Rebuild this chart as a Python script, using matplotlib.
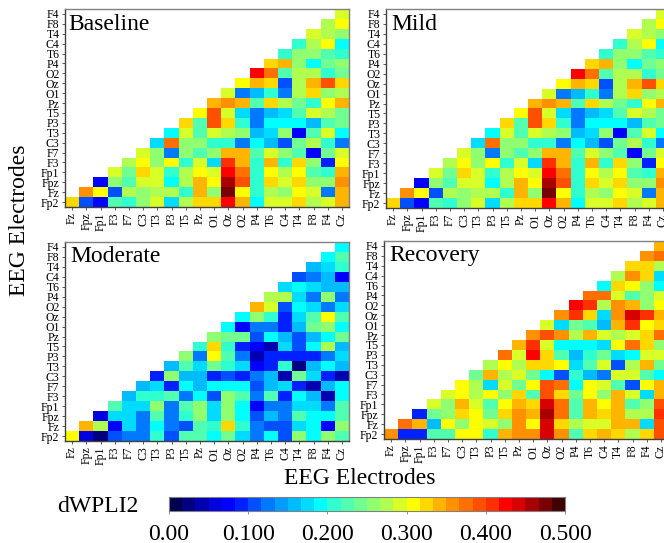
import matplotlib
matplotlib.use("Agg")
import matplotlib.pyplot as plt
import numpy as np
from matplotlib.colors import ListedColormap

x_labels = ["Fz", "Fpz", "Fp1", "F3", "F7", "C3", "T3", "P3", "T5", "Pz",
            "O1", "Oz", "O2", "P4", "T6", "C4", "T4", "F8", "F4", "Cz"]
y_labels = ["Fp2", "Fz", "Fpz", "Fp1", "F3", "F7", "C3", "T3", "P3", "T5",
            "Pz", "O1", "Oz", "O2", "P4", "T6", "C4", "T4", "F8", "F4"]

# rows go bottom to top, each row starts at the diagonal
baseline_rows = [
    [.33, .10, .08, .23, .21, .25, .29, .17, .27, .33, .33, .43, .34, .19, .29, .29, .33, .27, .29, .34],
    [.36, .31, .11, .27, .25, .27, .27, .21, .34, .25, .475, .31, .21, .27, .25, .31, .29, .13, .34],
    [.07, .25, .22, .29, .29, .19, .27, .34, .31, .46, .39, .21, .33, .29, .33, .25, .25, .36],
    [.29, .24, .33, .29, .21, .27, .31, .29, .43, .38, .21, .31, .27, .31, .23, .21, .34],
    [.27, .31, .25, .31, .21, .29, .17, .41, .34, .21, .34, .21, .33, .25, .09, .31],
    [.29, .25, .13, .25, .23, .25, .34, .34, .23, .29, .25, .22, .08, .24, .29],
    [.17, .38, .25, .25, .21, .21, .13, .19, .15, .11, .24, .27, .21, .13],
    [.19, .29, .23, .29, .27, .25, .15, .17, .25, .07, .23, .29, .19],
    [.33, .23, .39, .33, .21, .13, .19, .19, .19, .15, .22, .24],
    [.31, .39, .29, .17, .13, .15, .17, .23, .29, .27, .24],
    [.34, .36, .34, .23, .33, .27, .24, .21, .31, .34],
    [.29, .13, .15, .21, .13, .27, .33, .26, .27],
    [.31, .34, .33, .11, .27, .34, .39, .33],
    [.43, .38, .23, .27, .27, .21, .24],
    [.33, .34, .25, .19, .24, .25],
    [.21, .25, .25, .23, .21],
    [.21, .27, .31, .19],
    [.29, .27, .25],
    [.27, .31],
    [.29],
]

# the Mild panel shows the same colours as Baseline
mild_rows = baseline_rows

moderate_rows = [
    [.31, .05, .02, .11, .13, .12, .21, .11, .23, .23, .19, .24, .17, .13, .19, .11, .25, .19, .25, .23],
    [.34, .27, .07, .17, .13, .19, .13, .11, .23, .21, .33, .21, .13, .11, .11, .17, .19, .08, .25],
    [.05, .17, .17, .13, .23, .13, .21, .25, .17, .25, .19, .11, .15, .13, .23, .19, .19, .23],
    [.23, .17, .17, .25, .13, .23, .25, .17, .25, .19, .08, .13, .13, .17, .17, .13, .23],
    [.15, .21, .21, .23, .13, .19, .10, .25, .23, .13, .23, .09, .19, .15, .04, .19],
    [.15, .17, .09, .19, .15, .19, .19, .19, .10, .15, .17, .09, .04, .15, .19],
    [.09, .25, .15, .15, .09, .11, .09, .13, .15, .04, .24, .17, .09, .04],
    [.15, .23, .17, .24, .21, .17, .08, .09, .21, .03, .15, .19, .15],
    [.25, .13, .31, .23, .13, .04, .09, .09, .09, .09, .12, .17],
    [.21, .33, .21, .09, .07, .04, .17, .11, .19, .27, .15],
    [.25, .24, .24, .11, .19, .15, .11, .15, .19, .24],
    [.19, .08, .13, .13, .09, .15, .24, .26, .19],
    [.19, .26, .21, .09, .17, .23, .31, .23],
    [.34, .29, .11, .19, .17, .13, .17],
    [.27, .27, .17, .13, .25, .13],
    [.17, .19, .17, .15, .15],
    [.11, .13, .15, .08],
    [.15, .17, .21],
    [.19, .22],
    [.19],
]

recovery_rows = [
    [.36, .09, .09, .23, .22, .31, .31, .21, .34, .36, .36, .44, .36, .23, .33, .34, .33, .27, .33, .39],
    [.38, .34, .15, .31, .25, .31, .29, .25, .36, .31, .44, .33, .27, .29, .29, .34, .34, .17, .39],
    [.09, .24, .25, .33, .31, .24, .33, .36, .34, .46, .38, .23, .34, .33, .34, .27, .27, .41],
    [.29, .25, .34, .29, .22, .31, .34, .33, .44, .38, .23, .34, .31, .34, .23, .25, .39],
    [.29, .31, .27, .31, .25, .33, .22, .39, .33, .24, .31, .25, .34, .29, .17, .34],
    [.31, .27, .17, .29, .24, .31, .39, .38, .19, .31, .29, .23, .10, .31, .34],
    [.24, .34, .27, .29, .24, .19, .11, .21, .15, .13, .29, .29, .23, .19],
    [.27, .31, .27, .33, .33, .31, .17, .23, .29, .11, .27, .34, .24],
    [.38, .29, .43, .33, .23, .15, .21, .24, .17, .19, .29, .29],
    [.34, .41, .29, .19, .19, .19, .17, .31, .38, .33, .25],
    [.36, .39, .36, .27, .34, .29, .27, .29, .33, .38],
    [.29, .17, .24, .23, .15, .34, .41, .31, .33],
    [.36, .41, .33, .17, .36, .44, .41, .34],
    [.42, .41, .27, .36, .34, .25, .31],
    [.38, .38, .29, .22, .25, .29],
    [.19, .33, .31, .25, .19],
    [.27, .36, .33, .17],
    [.33, .33, .27],
    [.36, .38],
    [.34],
]

W, H = 664, 543
plt.rcParams["font.family"] = "Liberation Serif"

# 30 steps
cmap = ListedColormap([
    "#000050", "#000080", "#0000b0", "#0000e0", "#0000ff", "#0020ff",
    "#0050ff", "#0078ff", "#009cff", "#00bcff", "#00dcff", "#00ffff",
    "#30ffd0", "#50ffb0", "#70ff90", "#90ff70", "#b0ff50", "#d8ff28",
    "#ffff00", "#ffd800", "#ffb400", "#ff9000", "#ff7000", "#ff5000",
    "#ff3000", "#ff0000", "#d80000", "#a80000", "#780000", "#400000",
])


def px_axes(fig, left, top, right, bottom):
    return fig.add_axes([left / W, 1 - bottom / H, (right - left) / W, (bottom - top) / H])


def to_matrix(rows):
    mat = np.full((20, 20), np.nan)
    for i, row in enumerate(rows):
        mat[i, i:] = row
    return np.ma.masked_invalid(mat)


def draw_panel(ax, rows, name, lx, ly):
    edges = np.arange(21) - 0.5
    ax.pcolormesh(edges, edges, to_matrix(rows), cmap=cmap, vmin=0, vmax=0.5)
    ax.set_xticks(np.arange(20))
    ax.set_xticklabels(x_labels, rotation=90, fontsize=8.5)
    ax.set_yticks(np.arange(20))
    ax.set_yticklabels(y_labels, fontsize=8.5)
    ax.tick_params(length=2.5, width=0.6, pad=1.5, color="#404040")
    for side in ["left", "bottom"]:
        ax.spines[side].set_color("#404040")
    for side in ["top", "right"]:
        ax.spines[side].set_color("#808080")
    for spine in ax.spines.values():
        spine.set_linewidth(1.0)
    ax.figure.text(lx / W, 1 - ly / H, name, fontsize=17, ha="left", va="center")


fig = plt.figure(figsize=(W / 100, H / 100), dpi=100)

draw_panel(px_axes(fig, 65, 9, 349, 207), baseline_rows, "Baseline", 68, 24)
draw_panel(px_axes(fig, 386, 9, 670, 208), mild_rows, "Mild", 391, 24)
draw_panel(px_axes(fig, 65, 242, 349, 441), moderate_rows, "Moderate", 70, 256)
draw_panel(px_axes(fig, 384, 241, 668, 439), recovery_rows, "Recovery", 389, 256)

fig.text(360 / W, 1 - 479 / H, "EEG Electrodes", fontsize=17, ha="center", va="center")
fig.text(20 / W, 1 - 220 / H, "EEG Electrodes", fontsize=17, rotation=90, ha="center", va="center")
fig.text(98 / W, 1 - 507 / H, "dWPLI2", fontsize=17, ha="center", va="center")

cax = px_axes(fig, 169, 497, 565, 511)
levels = np.linspace(0, 0.5, 31)
cax.pcolormesh(levels, [0, 1], ((levels[:-1] + levels[1:]) / 2).reshape(1, -1),
               cmap=cmap, vmin=0, vmax=0.5)
cax.set_yticks([])
cax.set_xticks([0, 0.1, 0.2, 0.3, 0.4, 0.5])
cax.set_xticklabels(["0.00", "0.100", "0.200", "0.300", "0.400", "0.500"], fontsize=17)
cax.tick_params(axis="x", length=2, width=0.6, pad=7, color="#808080")
for spine in cax.spines.values():
    spine.set_color("#808080")
    spine.set_linewidth(0.8)

fig.savefig("out.png", dpi=100)
plt.close(fig)
